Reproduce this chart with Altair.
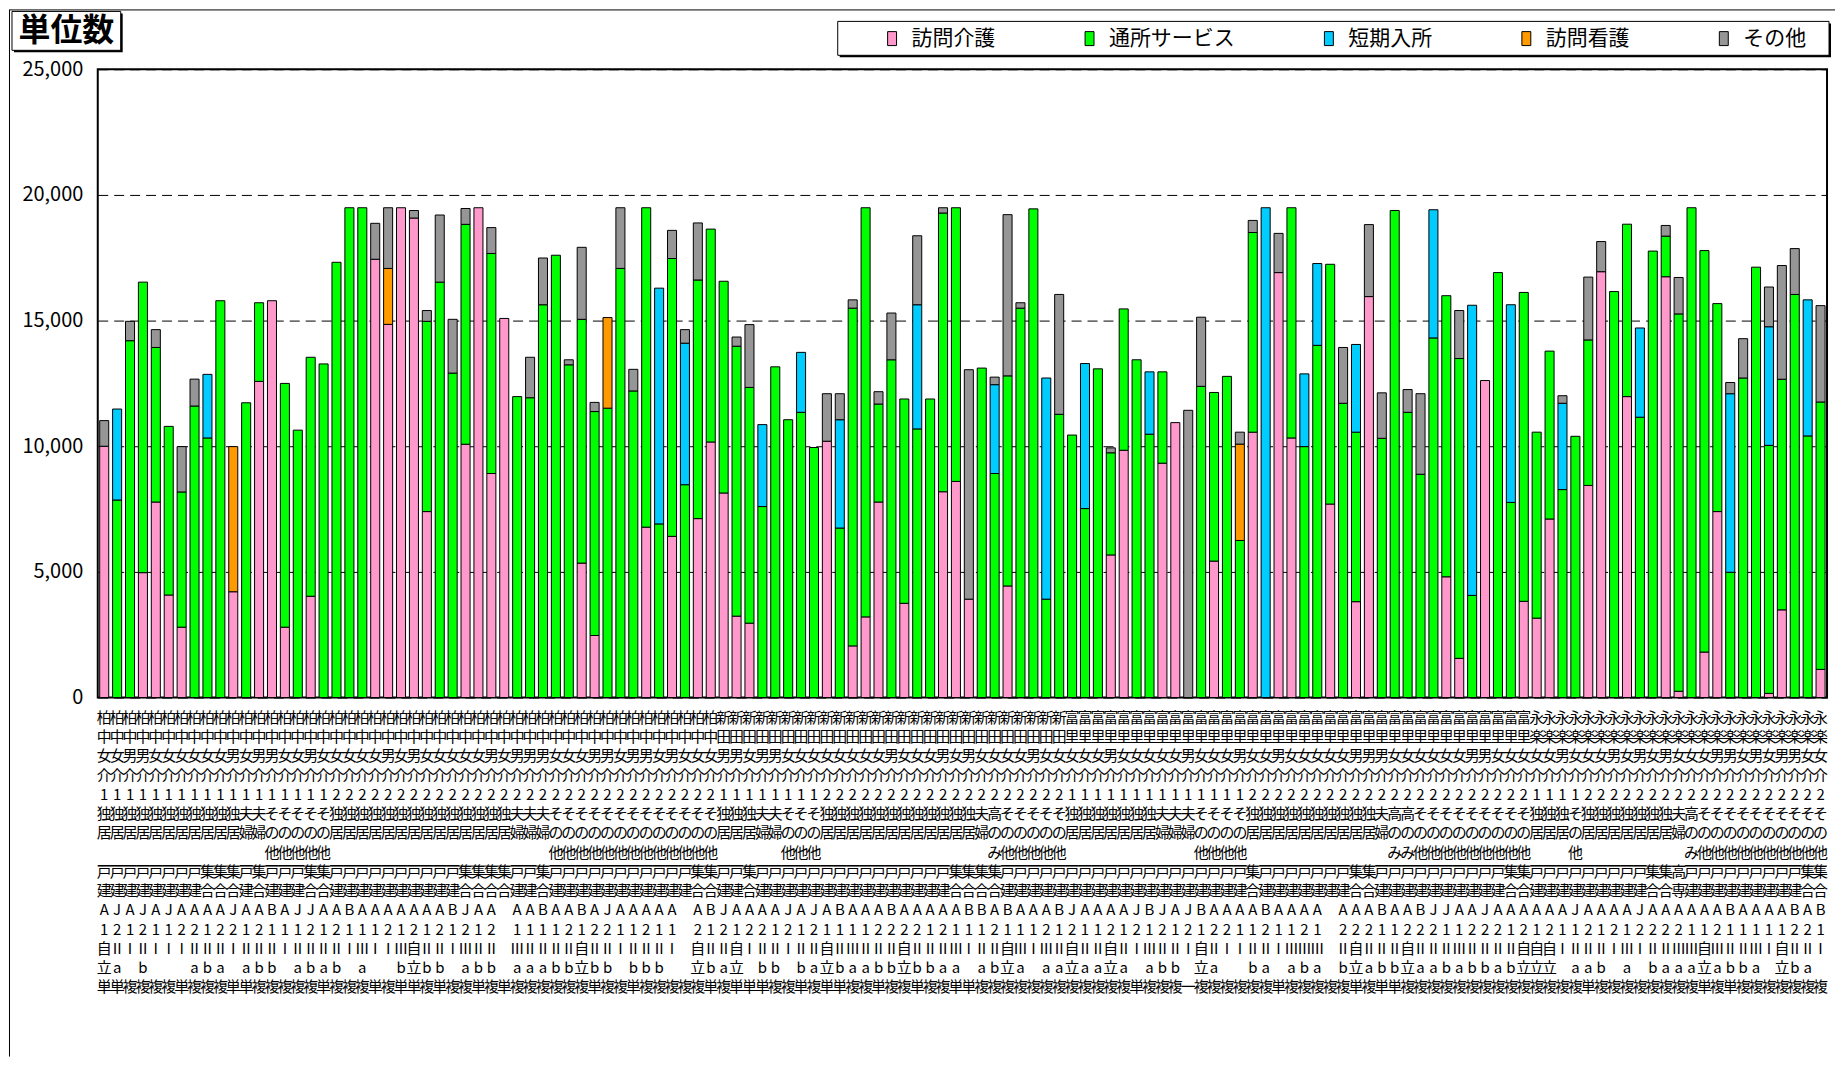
import altair as alt
import pandas as pd

FONT = "Noto Sans CJK JP"
BLANK = "\u2800"  # non-collapsing blank glyph, keeps an empty label line

SERIES = ["訪問介護", "通所サービス", "短期入所", "訪問看護", "その他"]
COLORS = ["#FF99CC", "#00FF00", "#00CCFF", "#FF9900", "#969696"]

# ---- values per bar (bars 1..134), stacked segments ----
HOMON_KAIGO = [
    10000, 0, 0, 4970, 7780, 4080, 2800, 0, 0, 0,
    4210, 0, 12580, 15790, 2800, 0, 4030, 0, 0, 0,
    0, 17440, 14850, 19490, 19080, 7400, 0, 0, 10080, 19490,
    8915, 15085, 0, 0, 0, 0, 0, 5350, 2470, 0,
    0, 0, 6780, 0, 6415, 0, 7120, 10170, 8140, 3240,
    2960, 0, 0, 0, 0, 0, 10200, 0, 2055, 3210,
    7780, 0, 3750, 0, 0, 8190, 8600, 3915, 0, 0,
    4440, 0, 0, 0, 0, 0, 0, 0, 5675, 9840,
    0, 0, 9325, 10940, 0, 0, 5430, 0, 0, 10560,
    0, 16910, 10330, 0, 0, 7700, 0, 3815, 15955, 0,
    0, 0, 0, 0, 4805, 1560, 0, 12615, 0, 0,
    3830, 3160, 7105, 0, 0, 8440, 16945, 0, 11975, 0,
    0, 16745, 250, 0, 1810, 7400, 0, 0, 0, 165,
    3490, 0, 0, 1120]

TSUSHO = [
    0, 7860, 14200, 11560, 6150, 6710, 5380, 11600, 10330, 15790,
    0, 11730, 3130, 0, 9700, 10640, 9510, 13275, 17320, 19490,
    19490, 0, 0, 0, 0, 7570, 16530, 12910, 8750, 0,
    8755, 0, 11975, 11930, 15630, 17600, 13240, 9700, 8910, 11515,
    17075, 12200, 12710, 6910, 11055, 8470, 9495, 8470, 8425, 10740,
    9380, 7600, 13160, 11055, 11350, 9950, 0, 6745, 13440, 16280,
    3900, 13440, 8130, 10690, 11880, 11090, 10890, 0, 13110, 8915,
    8360, 15495, 19445, 3915, 11270, 10445, 7520, 13080, 4065, 5625,
    13440, 10480, 3635, 0, 0, 12385, 6710, 12780, 6250, 7945,
    0, 0, 9160, 9985, 14015, 9540, 11710, 6745, 0, 10315,
    19380, 11350, 8885, 14310, 11185, 11930, 4065, 0, 16910, 7765,
    12290, 7400, 6680, 8275, 10395, 5790, 0, 16155, 6860, 11155,
    17765, 1615, 15015, 19490, 15975, 8275, 4985, 12715, 17125, 9870,
    9175, 16040, 10410, 10640]

# sparse series: {bar number: value}
TANKI = {2: 3620, 9: 2530, 44: 9380, 46: 5630, 52: 3260, 55: 2385, 58: 4310,
         64: 4940, 70: 3535, 74: 8800, 77: 5770, 82: 2480, 91: 19490, 94: 2895,
         95: 3255, 98: 3490, 104: 5100, 107: 11545, 110: 7865, 114: 3435,
         120: 3550, 127: 7105, 130: 4720, 133: 5415}
KANGO = {11: 5775, 23: 2225, 40: 3605, 89: 3835}
SONOTA = {1: 1020, 3: 770, 5: 710, 7: 1805, 8: 1070, 22: 1430, 23: 2415, 25: 300,
          26: 430, 27: 2670, 28: 2140, 29: 630, 31: 1030, 34: 1610, 35: 1860,
          37: 200, 38: 2865, 39: 365, 41: 2415, 42: 860, 45: 1120, 46: 540,
          47: 2270, 50: 365, 51: 2500, 57: 1890, 58: 1035, 59: 330, 61: 490,
          62: 1860, 64: 2745, 66: 210, 68: 9130, 70: 300, 71: 6415, 72: 215,
          75: 4770, 79: 195, 85: 11430, 86: 2750, 89: 475, 90: 480, 92: 1560,
          97: 2220, 99: 2865, 100: 1810, 102: 905, 103: 3205, 106: 1910,
          114: 300, 116: 2500, 117: 1200, 122: 425, 123: 1450, 127: 445,
          128: 1565, 130: 1580, 131: 4525, 132: 1825, 134: 3835}

# ---- category label rows (one character per bar per row) ----
CITY = [("柏中", 48), ("新田", 27), ("富里", 36), ("永楽", 23)]
CARE = [("1", 18), ("2", 30), ("1", 8), ("2", 19), ("1", 14), ("2", 22), ("1", 4), ("2", 19)]
HOUSEHOLD = [("独居", 11), ("夫婦", 2), ("その他", 5), ("独居", 14), ("夫婦", 3), ("その他", 13),
             ("独居", 3), ("夫婦", 2), ("その他", 3), ("独居", 12), ("夫婦", 1), ("高のみ", 1),
             ("その他", 5), ("独居", 7), ("夫婦", 3), ("その他", 4), ("独居", 10), ("夫婦", 1),
             ("高のみ", 2), ("その他", 9), ("独居", 3), ("その他", 1), ("独居", 7), ("夫婦", 1),
             ("高のみ", 1), ("その他", 10)]
HOUSING = [("戸建", 8), ("集合", 3), ("戸建", 1), ("集合", 1), ("戸建", 3), ("集合", 2), ("戸建", 5),
           ("戸建", 5), ("集合", 4), ("戸建", 2), ("集合", 1), ("戸建", 10),
           ("戸建", 1), ("集合", 2), ("戸建", 2), ("集合", 1), ("戸建", 15), ("集合", 2),
           ("集合", 2), ("戸建", 19), ("集合", 1),
           ("戸建", 7), ("集合", 2), ("戸建", 10), ("集合", 2), ("戸建", 1),
           ("戸建", 8), ("集合", 2), ("高専", 1), ("戸建", 9), ("集合", 2)]
SEX = ("女女男男女女女女女女男女男男女女男女女女女女男"
       "女男女女女女女男女男男男女女女男男女男男女男"
       "女女女男男女男男女女女女女女女女男女女女男女男"
       "女女女女男女女女女女男女女女女女男女女女男女"
       "女男女女女女女男男男女女女女女女男男女女女女"
       "女男女女女男女男女男女女女男男女男女男男女女")
CODE = ("AJAJAJAAAAJAABAJJAABAAA"
        "AAAABJAA AABAABAJAAAAA"
        " ABJAAAAJAJABAAABAAAAAB"
        "BABAAABJAAAAJBJAJBAAAA"
        "BAAAA AAABAABJJAAJAAAA"
        "AAJAAAAJAAAAAABAAAABAB")
NUM = ("12121122122121112121112"
       "12121212 1111212211211"
       " 2121221212111122221211"
       "1211121211212121212211"
       "21121 2221122211222121"
       "2112121222211211111221")
COG = ("自ⅡⅠⅡⅠⅠⅠⅡⅡⅡⅠⅡⅡⅡⅠⅡⅡⅡⅡⅠⅢⅠⅠ"
       "Ⅲ自ⅡⅡⅠⅢⅡⅡ ⅢⅡⅡⅡⅡ自ⅡⅡⅠⅡⅡⅡⅠ"
       " 自ⅡⅡ自ⅠⅡⅡⅠⅡⅡ自ⅡⅢⅡⅡⅡ自ⅡⅡⅡⅢⅠ"
       "ⅡⅡ自ⅢⅠⅢⅡ自ⅡⅡ自ⅡⅠⅢⅡⅡⅠ自ⅡⅠⅠⅡ"
       "ⅡⅠⅢⅢⅢ Ⅱ自ⅡⅡⅡ自ⅡⅡⅡⅢⅡⅡⅡⅡ自自"
       "自ⅠⅡⅡⅡⅠⅢⅠⅡⅡⅢⅢ自ⅢⅡⅡⅢⅠ自ⅡⅡⅠ")
SUF = ("立a b   aba abb abab a  "
       "b立bb abb aaabb立bb bbb "
       " 立ba立 bb ba立baabb立bbaa "
       "ab立a aa立aa立a abb 立a  b"
       "a aba b立abb立aababbab立立"
       "立 aab a baaa立abba 立ba ")
SOLO = ("単単複複複複単複複複単単複複複複複単複複複単複"
        "単単複単複複単複単複複複複複複単複複単複複複"
        "複複単複単単単複複単複単単複複単複複単複複単単"
        "複複複複複複複複複複複複単複複複一複複複複複"
        "複単複複複複複単複単単複複複複複複複複複複複"
        "複複複単複複複複複複複複単複単複複複複複複複")


def expand(runs):
    out = []
    for s, n in runs:
        out += [s] * n
    return out


N = len(TSUSHO)
city = expand(CITY)
care = expand(CARE)
household = [h + BLANK * (3 - len(h)) for h in expand(HOUSEHOLD)]
housing = expand(HOUSING)

rows = []
for i in range(N):
    label = (city[i] + SEX[i] + "介" + care[i] + household[i] + housing[i]
             + CODE[i] + NUM[i] + COG[i] + SUF[i] + SOLO[i]).replace(" ", BLANK)
    key = f"{i + 1:03d}|{label}"
    vals = [HOMON_KAIGO[i], TSUSHO[i], TANKI.get(i + 1, 0), KANGO.get(i + 1, 0), SONOTA.get(i + 1, 0)]
    for o, (s, v) in enumerate(zip(SERIES, vals)):
        if v > 0:
            rows.append({"key": key, "s": s, "v": v, "o": o})
df = pd.DataFrame(rows)

W, H = 1734, 630

bars = alt.Chart(df).mark_bar(stroke="black", strokeWidth=1).encode(
    x=alt.X("key:N", title=None,
            scale=alt.Scale(paddingInner=0.3, paddingOuter=0.15),
            axis=alt.Axis(labelExpr="split(substring(datum.value, 4), '')",
                          labelAngle=0, labelFontSize=15, labelLineHeight=19.3,
                          labelFont=FONT, labelColor="black", labelPadding=13,
                          labelAlign="center", labelBaseline="top",
                          labelOverlap=False, ticks=False, domain=False, grid=False)),
    y=alt.Y("v:Q", stack="zero", title=None,
            scale=alt.Scale(domain=[0, 25000], nice=False),
            axis=alt.Axis(values=[0, 5000, 10000, 15000, 20000, 25000], format=",d",
                          labelFontSize=20, labelFont=FONT, labelColor="black",
                          labelPadding=15, ticks=False, domain=False,
                          grid=True, gridDash=[10, 6], gridColor="black", gridWidth=1)),
    color=alt.Color("s:N", scale=alt.Scale(domain=SERIES, range=COLORS), sort=SERIES,
                    legend=alt.Legend(title=None, orient="none", legendX=786, legendY=-41.5,
                                      direction="horizontal", columns=5,
                                      symbolType="M-0.64,-1H0.64V1H-0.64Z", symbolSize=196,
                                      symbolStrokeColor="black", symbolStrokeWidth=1,
                                      symbolOpacity=1,
                                      labelFont=FONT, labelFontSize=21, labelColor="black",
                                      labelOffset=9, columnPadding=84, padding=0)),
    order=alt.Order("o:Q", sort="ascending"),
)

dummy = pd.DataFrame({"d": [0]})


def rect(x1, x2, y1, y2, **kw):
    return alt.Chart(dummy).mark_rect(**kw).encode(
        x=alt.value(x1), x2=alt.value(x2), y=alt.value(y1), y2=alt.value(y2))


def rule(x1, x2, y1, y2, **kw):
    return alt.Chart(dummy).mark_rule(**kw).encode(
        x=alt.value(x1), x2=alt.value(x2), y=alt.value(y1), y2=alt.value(y2))


frame_top = rule(-89, W + 8, -59.5, -59.5, color="black", strokeWidth=1)
frame_left = rule(-88.5, -88.5, -59.5, H + 360, color="black", strokeWidth=1)
title_shadow = rect(-84, 25, -56, -17, color="black")
title_box = rect(-86, 23, -58, -19, fill="white", stroke="black", strokeWidth=1)
title_text = alt.Chart(dummy).mark_text(
    text="単位数", font=FONT, fontSize=32, fontWeight="bold", color="black",
    align="center", baseline="middle").encode(x=alt.value(-31.5), y=alt.value(-38.5))
legend_shadow = rect(744, 1738, -46, -12, color="black")
legend_box = rect(742, 1736, -48, -14, fill="white", stroke="black", strokeWidth=1)
separator = rule(0, W, 799, 799, color="black", strokeWidth=1)

chart = alt.layer(
    frame_top, frame_left, title_shadow, title_box, title_text,
    legend_shadow, legend_box, bars, separator
).properties(
    width=W, height=H,
    autosize=alt.AutoSizeParams(type="none"),
    padding={"left": 90, "top": 60, "right": 8, "bottom": 360},
    background="white",
).configure(font=FONT).configure_view(stroke="black", strokeWidth=2)

chart.save("out.html", embed_options={"renderer": "svg", "actions": False})
